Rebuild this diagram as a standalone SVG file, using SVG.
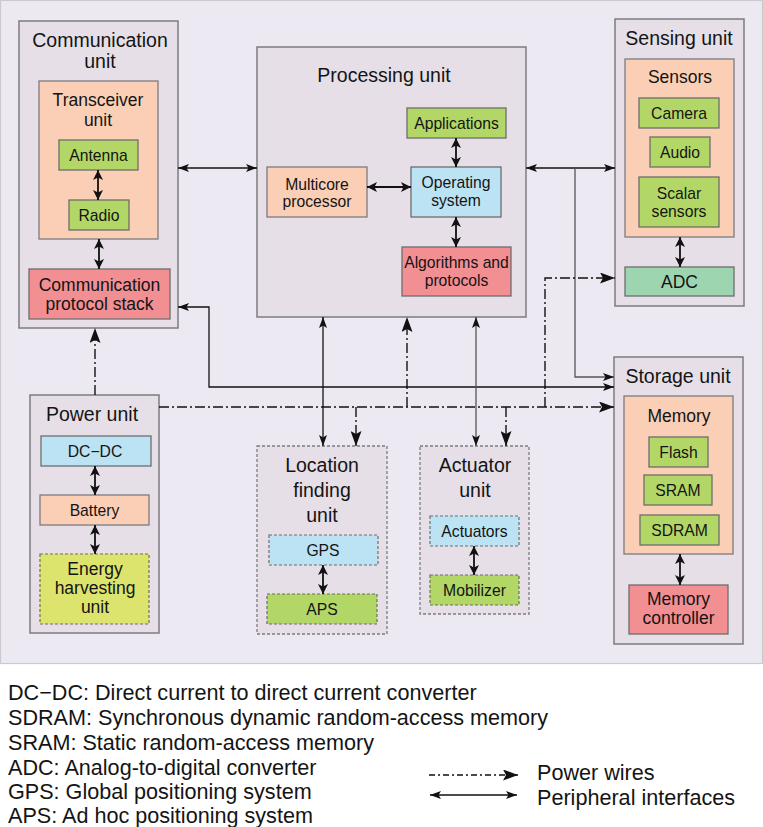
<svg xmlns="http://www.w3.org/2000/svg" width="763" height="827" viewBox="0 0 763 827">
<defs>
<style>
text{font-family:"Liberation Sans",Arial,sans-serif;fill:#141414;text-anchor:middle}
.t19{font-size:19.5px}
.t17{font-size:17.5px}
.t16{font-size:15.7px}
.leg{font-size:21.6px;text-anchor:start}
.unit{fill:#e6dfe7;stroke:#7c7c80;stroke-width:1.5}
.dunit{fill:#e6dfe7;stroke:#7c7c80;stroke-width:1.3;stroke-dasharray:3 2}
.peach{fill:#fbcfb5;stroke:#7c7c80;stroke-width:1.3}
.green{fill:#b3d766;stroke:#6d6d6d;stroke-width:1.3}
.red{fill:#f28f93;stroke:#6d6d6d;stroke-width:1.3}
.blue{fill:#bce3f3;stroke:#6d6d6d;stroke-width:1.3}
.teal{fill:#9ed5b1;stroke:#6d6d6d;stroke-width:1.3}
.dblue{fill:#bce3f3;stroke:#6d6d6d;stroke-width:1.2;stroke-dasharray:3 2}
.dgreen{fill:#b3d766;stroke:#6d6d6d;stroke-width:1.2;stroke-dasharray:3 2}
.dyel{fill:#dde46d;stroke:#6d6d6d;stroke-width:1.2;stroke-dasharray:3 2}
.sol{fill:none;stroke:#111;stroke-width:1.3;marker-end:url(#ah);marker-start:url(#ah)}
.sole{fill:none;stroke:#111;stroke-width:1.3;marker-end:url(#ah)}
.grey{stroke:#555}
.pw{fill:none;stroke:#111;stroke-width:1.4;stroke-dasharray:10 3 2 3;marker-end:url(#ahp)}
.pwl{fill:none;stroke:#111;stroke-width:1.3;stroke-dasharray:6 3 2 3;marker-end:url(#ahp)}
.in{fill:none;stroke:#111;stroke-width:1.8;marker-end:url(#ahi);marker-start:url(#ahi)}
</style>
<marker id="ah" markerUnits="userSpaceOnUse" markerWidth="11" markerHeight="8" refX="11" refY="4" orient="auto-start-reverse"><path d="M0,0 L11,4 L0,8 L2.5,4 z" fill="#111"/></marker>
<marker id="ahi" markerUnits="userSpaceOnUse" markerWidth="10" markerHeight="10" refX="10" refY="5" orient="auto-start-reverse"><path d="M0,0 L10,5 L0,10 L2.5,5 z" fill="#111"/></marker>
<marker id="ahp" markerUnits="userSpaceOnUse" markerWidth="15" markerHeight="11" refX="15" refY="5.5" orient="auto"><path d="M0,0 L15,5.5 L0,11 L3,5.5 z" fill="#111"/></marker>
</defs>

<rect x="0.5" y="0.5" width="762" height="663" fill="#ede9f3" stroke="#cacad0" stroke-width="1.2"/>

<g id="communication-unit">
<rect class="unit" x="19" y="21" width="159" height="307"/>
<text class="t19" x="100" y="47">Communication</text>
<text class="t19" x="100" y="68">unit</text>
<rect class="peach" x="39" y="81" width="119" height="158"/>
<text class="t17" x="98" y="106">Transceiver</text>
<text class="t17" x="98" y="126">unit</text>
</g>
<g id="antenna"><rect class="green" x="59" y="140" width="79" height="30"/><text class="t16" x="98.5" y="161">Antenna</text></g>
<g id="radio"><rect class="green" x="69" y="200" width="60" height="30"/><text class="t16" x="99" y="221">Radio</text></g>
<g id="protocol-stack"><rect class="red" x="29" y="269" width="141" height="50"/><text class="t17" x="99.5" y="291">Communication</text><text class="t17" x="99.5" y="310">protocol stack</text></g>

<g id="processing-unit">
<rect class="unit" x="257" y="47" width="269" height="270"/>
<text class="t19" x="384" y="82">Processing unit</text>
</g>
<g id="applications"><rect class="green" x="407" y="108" width="99" height="30"/><text class="t16" x="456.5" y="129">Applications</text></g>
<g id="operating-system"><rect class="blue" x="411" y="167" width="90" height="50"/><text class="t16" x="456" y="188">Operating</text><text class="t16" x="456" y="206">system</text></g>
<g id="multicore-processor"><rect class="peach" x="267" y="167" width="100" height="50"/><text class="t16" x="317" y="190">Multicore</text><text class="t16" x="317" y="207">processor</text></g>
<g id="algorithms"><rect class="red" x="402" y="247" width="109" height="49"/><text class="t16" x="456.5" y="268">Algorithms and</text><text class="t16" x="456.5" y="286">protocols</text></g>

<g id="sensing-unit">
<rect class="unit" x="615" y="19" width="129" height="287"/>
<text class="t19" x="679" y="45">Sensing unit</text>
<rect class="peach" x="625" y="59" width="109" height="178"/>
<text class="t17" x="680" y="83">Sensors</text>
</g>
<g id="camera"><rect class="green" x="639" y="98" width="80" height="30"/><text class="t16" x="679" y="119">Camera</text></g>
<g id="audio"><rect class="green" x="650" y="137" width="60" height="30"/><text class="t16" x="680" y="158">Audio</text></g>
<g id="scalar-sensors"><rect class="green" x="639" y="177" width="80" height="50"/><text class="t16" x="679" y="199">Scalar</text><text class="t16" x="679" y="217">sensors</text></g>
<g id="adc"><rect class="teal" x="625" y="267" width="109" height="29"/><text class="t17" x="679.5" y="288">ADC</text></g>

<g id="storage-unit">
<rect class="unit" x="614" y="357" width="129" height="287"/>
<text class="t19" x="678" y="383">Storage unit</text>
<rect class="peach" x="624" y="396" width="109" height="158"/>
<text class="t17" x="679" y="422">Memory</text>
</g>
<g id="flash"><rect class="green" x="649" y="437" width="59" height="30"/><text class="t16" x="678.5" y="458">Flash</text></g>
<g id="sram"><rect class="green" x="644" y="475" width="68" height="30"/><text class="t16" x="678" y="496">SRAM</text></g>
<g id="sdram"><rect class="green" x="640" y="515" width="79" height="30"/><text class="t16" x="679.5" y="536">SDRAM</text></g>
<g id="memory-controller"><rect class="red" x="629" y="585" width="99" height="49"/><text class="t17" x="678.5" y="605">Memory</text><text class="t17" x="678.5" y="624">controller</text></g>

<g id="power-unit">
<rect class="unit" x="30" y="395" width="129" height="238"/>
<text class="t19" x="92" y="421">Power unit</text>
</g>
<g id="dc-dc"><rect class="blue" x="41" y="436" width="110" height="30"/><text class="t16" x="95" y="457">DC−DC</text></g>
<g id="battery"><rect class="peach" x="40" y="495" width="109" height="30"/><text class="t16" x="94.5" y="516">Battery</text></g>
<g id="energy-harvesting"><rect class="dyel" x="40" y="554" width="109" height="70"/><text class="t17" x="95" y="575">Energy</text><text class="t17" x="95" y="594">harvesting</text><text class="t17" x="95" y="613">unit</text></g>

<g id="location-unit">
<rect class="dunit" x="257" y="446" width="130" height="188"/>
<text class="t19" x="322" y="472">Location</text>
<text class="t19" x="322" y="497">finding</text>
<text class="t19" x="322" y="522">unit</text>
</g>
<g id="gps"><rect class="dblue" x="269" y="535" width="109" height="30"/><text class="t16" x="323" y="556">GPS</text></g>
<g id="aps"><rect class="dgreen" x="267" y="594" width="110" height="30"/><text class="t16" x="322" y="615">APS</text></g>

<g id="actuator-unit">
<rect class="dunit" x="420" y="446" width="109" height="168"/>
<text class="t19" x="475" y="472">Actuator</text>
<text class="t19" x="475" y="497">unit</text>
</g>
<g id="actuators"><rect class="dblue" x="430" y="516" width="89" height="30"/><text class="t16" x="474.5" y="537">Actuators</text></g>
<g id="mobilizer"><rect class="dgreen" x="430" y="575" width="89" height="30"/><text class="t16" x="474.5" y="596">Mobilizer</text></g>

<g id="connectors">
<path class="sol" d="M178 168 H257"/>
<path class="sol" d="M526 168 H615"/>
<path class="sole grey" d="M575 168 V377 H614"/>
<path class="sol" d="M178 307 H209 V387 H614"/>
<path class="sol" d="M323 446 V317"/>
<path class="sol grey" d="M476 446 V317"/>
<path class="pw" d="M159 407 H614"/>
<path class="pw" d="M95 395 V328"/>
<path class="pw" d="M407 407 V317"/>
<path class="pw" d="M545 407 V278 H615"/>
<path class="pw" d="M356 407 V446"/>
<path class="pw" d="M506 407 V446"/>
<path class="in" d="M98 170 V200"/>
<path class="in" d="M99 239 V269"/>
<path class="in" d="M367 187 H411"/>
<path class="in" d="M456 138 V167"/>
<path class="in" d="M456 217 V247"/>
<path class="in" d="M680 237 V267"/>
<path class="in" d="M95 466 V495"/>
<path class="in" d="M95 525 V554"/>
<path class="in" d="M323 565 V594"/>
<path class="in" d="M474 546 V575"/>
<path class="in" d="M680 554 V585"/>
</g>

<g id="legend">
<text class="leg" x="8" y="700">DC−DC: Direct current to direct current converter</text>
<text class="leg" x="8" y="725">SDRAM: Synchronous dynamic random-access memory</text>
<text class="leg" x="8" y="750">SRAM: Static random-access memory</text>
<text class="leg" x="8" y="775">ADC: Analog-to-digital converter</text>
<text class="leg" x="8" y="799">GPS: Global positioning system</text>
<text class="leg" x="8" y="823">APS: Ad hoc positioning system</text>
<path class="pwl" d="M429 775 H518"/>
<path class="sol" d="M430 795 H517"/>
<text class="leg" x="537" y="780">Power wires</text>
<text class="leg" x="537" y="805">Peripheral interfaces</text>
</g>
</svg>
